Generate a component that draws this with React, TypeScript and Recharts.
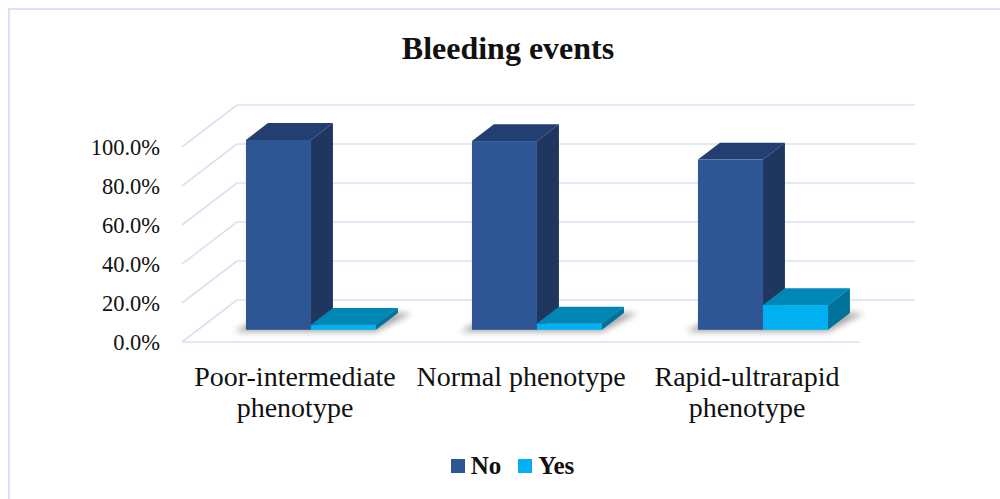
import { Bar, BarChart, CartesianGrid, Legend, XAxis, YAxis } from "recharts"

const CATEGORIES = ["Poor-intermediate phenotype", "Normal phenotype", "Rapid-ultrarapid phenotype"]
const CATEGORY_LINES = [["Poor-intermediate", "phenotype"], ["Normal phenotype"], ["Rapid-ultrarapid", "phenotype"]]
const NO_VALUES = [97.4, 96.8, 87.3]
const YES_VALUES = [2.6, 3.2, 12.7]
const Y_TICKS = [0, 20, 40, 60, 80, 100]

const data = CATEGORIES.map((category, i) => ({
  category,
  No: NO_VALUES[i],
  Yes: YES_VALUES[i],
}))

const FONT = '"Liberation Serif", "Times New Roman", serif'
const GRID = "#d9e2f3"

// oblique 3d look: back wall offset, and where the bars sit inside that depth
const DEPTH_X = 55
const DEPTH_Y = -42
const BAR_FRONT = 0.29
const BAR_DEPTH = 0.4

const SERIES = [
  { key: "No", front: "#2e5594", top: "#233f72", side: "#1f365f", shadow: true },
  { key: "Yes", front: "#00b0f0", top: "#0087b6", side: "#00729c", shadow: false },
]

function makeShape(front: string, top: string, side: string, shadow: boolean) {
  return (props: any) => {
    const { x, y, width, height, index } = props
    const fx = x + DEPTH_X * BAR_FRONT
    const fy = y + DEPTH_Y * BAR_FRONT
    const dx = DEPTH_X * BAR_DEPTH
    const dy = DEPTH_Y * BAR_DEPTH
    const base = fy + height
    const w = width
    const pts = (p: number[][]) => p.map((q) => q.join(",")).join(" ")
    return (
      <g>
        {shadow && (
          <>
            <defs>
              <filter id={`shadow${index}`} x="-20%" y="-50%" width="140%" height="200%">
                <feGaussianBlur stdDeviation="3" />
              </filter>
            </defs>
            <polygon
              points={pts([
                [fx - 12, base + 2],
                [fx + 2 * w, base + 2],
                [fx + 2 * w + dx + 14, base + dy],
                [fx + dx, base + dy],
              ])}
              fill="#000"
              opacity={0.35}
              filter={`url(#shadow${index})`}
            />
          </>
        )}
        <rect x={fx} y={fy} width={w} height={height} fill={front} />
        <polygon
          points={pts([
            [fx, fy],
            [fx + w, fy],
            [fx + w + dx, fy + dy],
            [fx + dx, fy + dy],
          ])}
          fill={top}
        />
        <polygon
          points={pts([
            [fx + w, fy],
            [fx + w + dx, fy + dy],
            [fx + w + dx, base + dy],
            [fx + w, base],
          ])}
          fill={side}
        />
      </g>
    )
  }
}

function gridLine(props: any) {
  const { x1, y1, x2, key, index } = props
  return (
    <g key={key ?? `g${index}`}>
      <line x1={x1} y1={y1} x2={x1 + DEPTH_X} y2={y1 + DEPTH_Y} stroke={GRID} strokeWidth={1.6} />
      <line
        x1={x1 + DEPTH_X}
        y1={y1 + DEPTH_Y}
        x2={x2 + DEPTH_X}
        y2={y1 + DEPTH_Y}
        stroke={GRID}
        strokeWidth={1.6}
      />
    </g>
  )
}

function YTick(props: any) {
  const { x, y, payload } = props
  return (
    <text x={x} y={y} dy={7.8} textAnchor="end" fontSize={22.5} fontFamily={FONT} fill="#111">
      {`${Number(payload.value).toFixed(1)}%`}
    </text>
  )
}

function XTick(props: any) {
  const { x, y, index } = props
  const lines = CATEGORY_LINES[index] ?? [CATEGORIES[index]]
  return (
    <text x={x} y={y} textAnchor="middle" fontSize={28} fontFamily={FONT} fill="#111">
      {lines.map((line, i) => (
        <tspan key={i} x={x} dy={i === 0 ? 44 : 31}>
          {line}
        </tspan>
      ))}
    </text>
  )
}

function LegendContent() {
  return (
    <div
      style={{
        height: 30,
        width: 1000,
        boxSizing: "border-box",
        paddingLeft: 25,
        display: "flex",
        justifyContent: "center",
        alignItems: "center",
        fontFamily: FONT,
        fontWeight: "bold",
        fontSize: 25,
        lineHeight: "30px",
        color: "#111",
      }}
    >
      {SERIES.map((s, i) => (
        <div key={s.key} style={{ display: "flex", alignItems: "center", marginLeft: i === 0 ? 0 : 17 }}>
          <span style={{ width: 14, height: 14, background: s.front, marginRight: 6 }} />
          <span>{s.key}</span>
        </div>
      ))}
    </div>
  )
}

export default function App() {
  return (
    <div style={{ position: "absolute", left: 0, top: 0, width: 1000, height: 499, background: "#fff" }}>
      <div
        style={{
          position: "absolute",
          left: 8,
          top: 8,
          width: 992,
          height: 491,
          borderLeft: `2px solid ${GRID}`,
          borderTop: `2px solid ${GRID}`,
        }}
      />
      <svg width={1000} height={80} style={{ position: "absolute", left: 0, top: 0 }}>
        <text x={508} y={59} textAnchor="middle" fontSize={32} fontWeight="bold" fontFamily={FONT} fill="#111">
          Bleeding events
        </text>
      </svg>
      <div style={{ position: "absolute", left: 0, top: 0 }}>
        <BarChart
          width={1000}
          height={499}
          data={data}
          margin={{ top: 147, right: 140, bottom: 18, left: 102 }}
          barGap={0}
        >
          <CartesianGrid vertical={false} horizontal={gridLine} />
          <XAxis
            dataKey="category"
            interval={0}
            height={109}
            tickLine={false}
            axisLine={{ stroke: GRID, strokeWidth: 1.6 }}
            tickSize={0}
            tickMargin={0}
            tick={<XTick />}
          />
          <YAxis
            domain={[0, 100]}
            ticks={Y_TICKS}
            width={80}
            axisLine={false}
            tickLine={false}
            tickSize={0}
            tickMargin={22}
            tick={<YTick />}
          />
          <Legend verticalAlign="bottom" wrapperStyle={{ left: 0, width: 1000 }} content={<LegendContent />} />
          {SERIES.map((s) => (
            <Bar
              key={s.key}
              dataKey={s.key}
              fill={s.front}
              barSize={65}
              isAnimationActive={false}
              shape={makeShape(s.front, s.top, s.side, s.shadow)}
            />
          ))}
        </BarChart>
      </div>
    </div>
  )
}
